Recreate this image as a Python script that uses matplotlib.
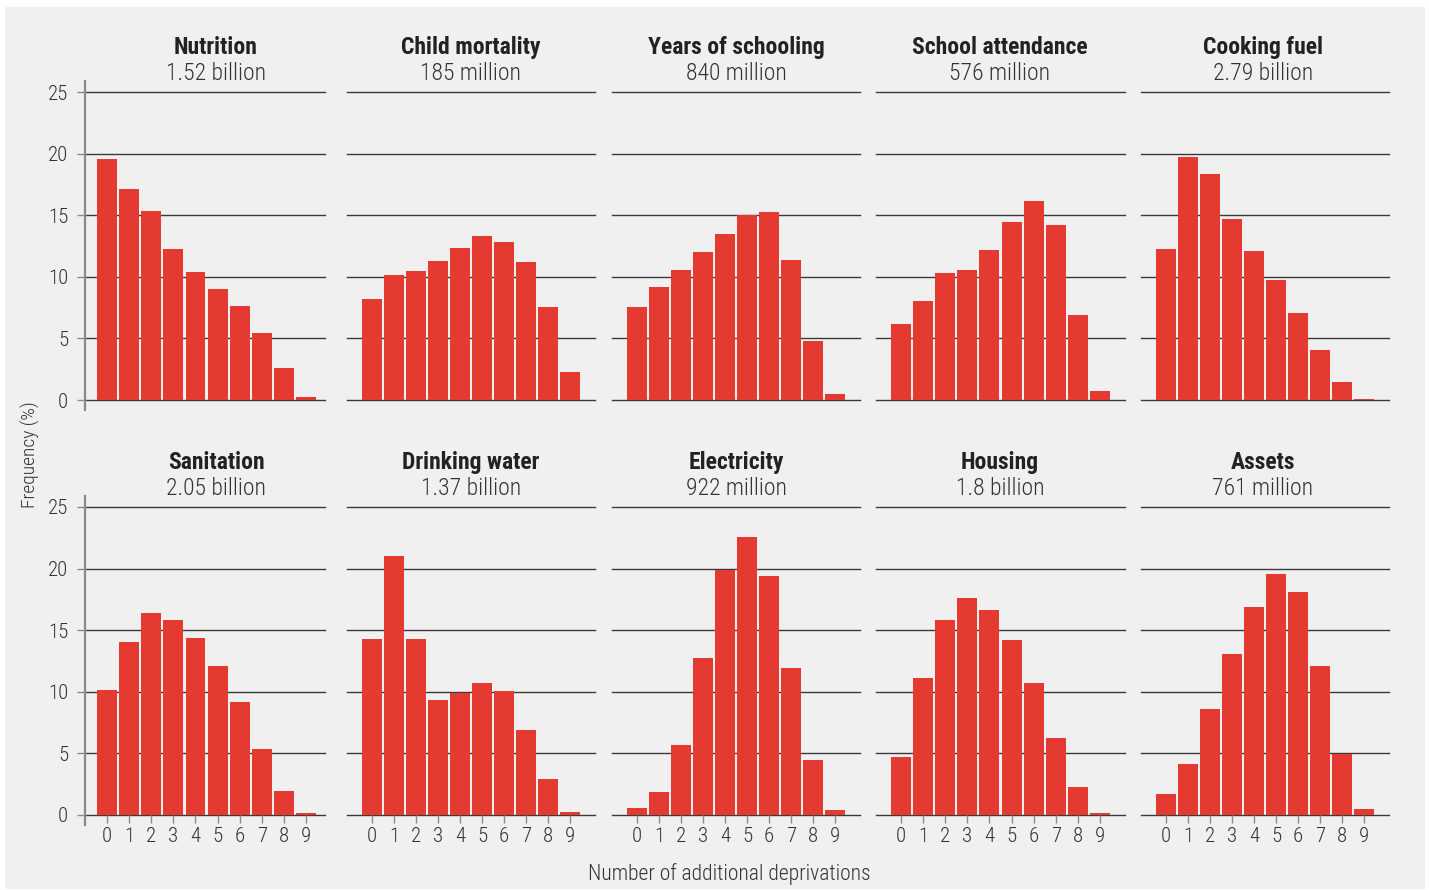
import matplotlib
matplotlib.use("Agg")
import matplotlib.pyplot as plt
from matplotlib.patches import Rectangle

# ---------------- data ----------------
deprivations = [0, 1, 2, 3, 4, 5, 6, 7, 8, 9]
indicators = ["Nutrition", "Child mortality", "Years of schooling", "School attendance", "Cooking fuel",
              "Sanitation", "Drinking water", "Electricity", "Housing", "Assets"]
populations = ["1.52 billion", "185 million", "840 million", "576 million", "2.79 billion",
               "2.05 billion", "1.37 billion", "922 million", "1.8 billion", "761 million"]

nutrition = [19.6, 17.15, 15.35, 12.25, 10.4, 9.0, 7.65, 5.45, 2.6, 0.25]
child_mortality = [8.2, 10.15, 10.45, 11.3, 12.35, 13.3, 12.8, 11.2, 7.55, 2.3]
years_of_schooling = [7.55, 9.15, 10.55, 12.0, 13.45, 15.0, 15.25, 11.35, 4.8, 0.5]
school_attendance = [6.15, 8.05, 10.3, 10.55, 12.2, 14.45, 16.15, 14.2, 6.9, 0.75]
cooking_fuel = [12.25, 19.7, 18.35, 14.7, 12.1, 9.75, 7.05, 4.05, 1.45, 0.1]
sanitation = [10.15, 14.05, 16.4, 15.85, 14.35, 12.1, 9.15, 5.35, 1.95, 0.15]
drinking_water = [14.3, 21.0, 14.3, 9.35, 9.9, 10.7, 10.05, 6.9, 2.9, 0.25]
electricity = [0.55, 1.85, 5.7, 12.75, 19.9, 22.55, 19.4, 11.95, 4.45, 0.4]
housing = [4.7, 11.1, 15.85, 17.6, 16.65, 14.2, 10.7, 6.25, 2.25, 0.15]
assets = [1.7, 4.15, 8.6, 13.05, 16.9, 19.55, 18.1, 12.1, 4.95, 0.5]

series = [nutrition, child_mortality, years_of_schooling, school_attendance, cooking_fuel,
          sanitation, drinking_water, electricity, housing, assets]
yticks = [0, 5, 10, 15, 20, 25]

# ---------------- style ----------------
FONT = ["Roboto Condensed", "IBM Plex Sans Condensed", "Fira Sans Condensed", "DejaVu Sans"]
plt.rcParams["font.family"] = FONT
BAR = "#e43a32"
BG = "#f0f0f0"
GRID = "#3a3a3a"
SPINE = "#8a8a8a"
TXT = "#333333"

W, H = 1429, 890
fig = plt.figure(figsize=(W / 100, H / 100), dpi=100)
fig.patch.set_facecolor("white")
fig.add_artist(Rectangle((5 / W, 1 - 889 / H), 1420 / W, 882 / H, transform=fig.transFigure,
                         facecolor=BG, edgecolor="none", zorder=-10))

col_left = [85, 347, 612, 876, 1141]
col_right = [325, 595, 860, 1125, 1389]
col_xlim = [(-1.0, 9.86), (-1.13, 10.13), (-1.13, 10.13), (-1.13, 10.13), (-1.13, 10.13)]
title_cx = [216, 471, 736, 1000, 1263]
row_top = [92, 507]
row_bot = [400, 815]

for i, vals in enumerate(series):
    r, c = divmod(i, 5)
    l, rr = col_left[c], col_right[c]
    t, b = row_top[r], row_bot[r]
    ax = fig.add_axes([l / W, 1 - b / H, (rr - l) / W, (b - t) / H])
    ax.set_facecolor("none")
    ax.set_xlim(*col_xlim[c])
    ax.set_ylim(0, 25)
    for yv in yticks:
        ax.axhline(yv, color=GRID, lw=1.0, zorder=0, clip_on=False)
    ax.bar(deprivations, vals, width=0.9, color=BAR, zorder=2, linewidth=0)
    for s in ["top", "right", "bottom"]:
        ax.spines[s].set_visible(False)
    if c == 0:
        ax.spines["left"].set_color(SPINE)
        ax.spines["left"].set_linewidth(1.6)
        ax.spines["left"].set_bounds(-0.85, 25.9)
        ax.set_yticks(yticks)
        ax.set_yticklabels([str(v) for v in yticks], fontweight="light")
        ax.tick_params(axis="y", length=6, width=1.0, color=SPINE, pad=6, labelsize=15, labelcolor=TXT)
    else:
        ax.spines["left"].set_visible(False)
        ax.set_yticks([])
    if r == 1:
        ax.set_xticks(deprivations)
        ax.set_xticklabels([str(v) for v in deprivations], fontweight="light")
        ax.tick_params(axis="x", length=6, width=1.0, color=SPINE, pad=3, labelsize=15, labelcolor=TXT)
    else:
        ax.set_xticks([])
    cx = title_cx[c] / W
    fig.text(cx, 1 - (54 + r * 415) / H, indicators[i], ha="center", va="baseline",
             fontsize=17, fontweight="bold", color="#222222")
    fig.text(cx, 1 - (80 + r * 415) / H, populations[i], ha="center", va="baseline",
             fontsize=17, fontweight="light", color=TXT)

fig.text(30 / W, 1 - 455 / H, "Frequency (%)", rotation=90, ha="center", va="center",
         fontsize=14, fontweight="light", color=TXT)
fig.text(729 / W, 1 - 880 / H, "Number of additional deprivations", ha="center", va="baseline",
         fontsize=15.5, fontweight="light", color=TXT)

fig.savefig("out.png", dpi=100, facecolor="white")
